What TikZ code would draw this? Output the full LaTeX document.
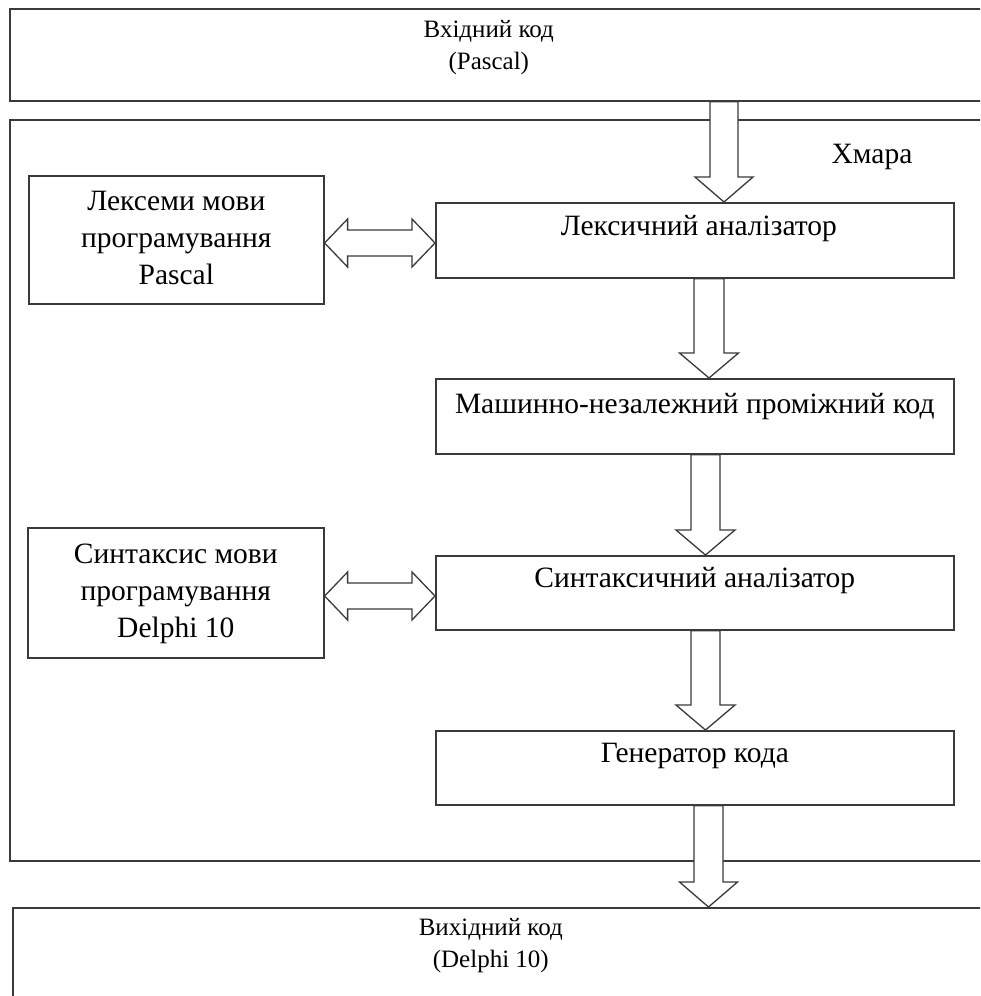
\documentclass[tikz,border=0pt]{standalone}
\usepackage{fontspec}
\setmainfont{Liberation Serif}
\usetikzlibrary{calc}
\definecolor{linec}{HTML}{3A3A3A}
\tikzset{
  box/.style={draw=linec, line width=1.6pt, fill=white, inner sep=0pt, anchor=north west},
  txt/.style={font=\fontsize{29.5}{33}\selectfont, align=center, text=black, inner sep=0pt},
  txtl/.style={txt, font=\fontsize{29.5}{37}\selectfont},
  txts/.style={txt, font=\fontsize{25}{32}\selectfont},
  barrow/.style={draw=linec, line width=1.3pt, fill=white, line join=miter},
}
% vertical block arrow: #1 upper node, #2 lower node, #3 x centre, #4 shaft half width, #5 head half width
\newcommand\vbarrow[5]{%
  \draw[barrow] let \p1=(#1.south), \p2=(#2.north) in
    (#3pt-#4pt,\y1) -- (#3pt+#4pt,\y1) -- (#3pt+#4pt,\y2+25pt) -- (#3pt+#5pt,\y2+25pt)
    -- (#3pt,\y2) -- (#3pt-#5pt,\y2+25pt) -- (#3pt-#4pt,\y2+25pt) -- cycle;}
% horizontal double block arrow: #1 left node, #2 right node, #3 y centre
\newcommand\hbarrow[3]{%
  \draw[barrow] let \p1=(#1.east), \p2=(#2.west) in
    (\x1,#3pt) -- (\x1+23pt,#3pt+24pt) -- (\x1+23pt,#3pt+13pt) -- (\x2-23pt,#3pt+13pt)
    -- (\x2-23pt,#3pt+24pt) -- (\x2,#3pt) -- (\x2-23pt,#3pt-24pt) -- (\x2-23pt,#3pt-13pt)
    -- (\x1+23pt,#3pt-13pt) -- (\x1+23pt,#3pt-24pt) -- cycle;}
\begin{document}
\begin{tikzpicture}[x=1pt,y=1pt]
\clip (0,0) rectangle (980,-996);
\fill[white] (0,0) rectangle (980,-996);

\node[box, minimum width=1000pt, minimum height=92pt,
  label={[txts, xshift=-21pt, yshift=7pt]center:Вхідний код\\(Pascal)}] (src) at (9,-8) {};
\node[box, minimum width=1000pt, minimum height=741pt] (cloud) at (9,-119) {};
\node[txt] (cloudlbl) at ($(cloud.north west)+(863,-38)$) {Хмара};

\node[box, minimum width=295pt, minimum height=128pt,
  label={[txtl, yshift=2pt]center:Лексеми мови\\програмування\\Pascal}] (lexemes) at (28,-175) {};
\node[box, minimum width=518pt, minimum height=75pt,
  label={[txt, xshift=4pt, yshift=12pt]center:Лексичний аналізатор}] (lex) at (435,-202) {};
\node[box, minimum width=518pt, minimum height=75pt,
  label={[txt, yshift=10pt]center:Машинно-незалежний проміжний код}] (mach) at (435,-378) {};
\node[box, minimum width=296pt, minimum height=130pt,
  label={[txtl, yshift=-1pt]center:Синтаксис мови\\програмування\\Delphi 10}] (synl) at (27,-527) {};
\node[box, minimum width=518pt, minimum height=74pt,
  label={[txt, yshift=12pt]center:Синтаксичний аналізатор}] (syn) at (435,-555) {};
\node[box, minimum width=518pt, minimum height=74pt,
  label={[txt, yshift=12pt]center:Генератор кода}] (gen) at (435,-730) {};
\node[box, minimum width=1000pt, minimum height=150pt,
  label={[txts, xshift=-22pt, yshift=37pt]center:Вихідний код\\(Delphi 10)}] (out) at (12,-907) {};

\vbarrow{src}{lex}{724}{14}{29}
\vbarrow{lex}{mach}{709}{15}{29.5}
\vbarrow{mach}{syn}{705.5}{14.5}{29.5}
\vbarrow{syn}{gen}{705.5}{14.5}{29.5}
\vbarrow{gen}{out}{708.5}{14.5}{29}

\hbarrow{lexemes}{lex}{-243}
\hbarrow{synl}{syn}{-596}
\end{tikzpicture}
\end{document}
